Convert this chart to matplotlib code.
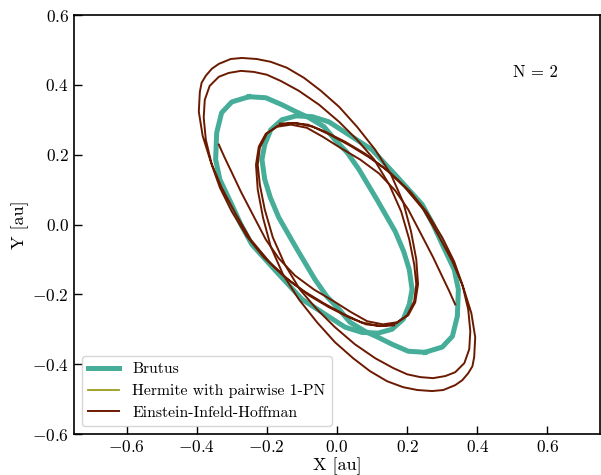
import matplotlib
matplotlib.use("Agg")
import matplotlib.pyplot as plt

plt.rcParams["font.family"] = "serif"
plt.rcParams["font.serif"] = ["cmr10"]
plt.rcParams["mathtext.fontset"] = "cm"
plt.rcParams["axes.formatter.use_mathtext"] = True
plt.rcParams["axes.unicode_minus"] = True

# Brutus (and Hermite 1-PN, hidden underneath) - body 1 and body 2 orbits
brutus_x1 = [-0.251, -0.203, -0.157, -0.117, -0.080, -0.037, -0.006, 0.029, 0.063, 0.114,
             0.166, 0.190, 0.206, 0.214, 0.206, 0.189, 0.157, 0.117, 0.071, 0.023,
             -0.034, -0.100, -0.171, -0.243, -0.274, -0.300, -0.334, -0.346, -0.343, -0.329,
             -0.300, -0.251]
brutus_y1 = [0.366, 0.363, 0.343, 0.323, 0.306, 0.280, 0.243, 0.206, 0.157, 0.071,
             -0.020, -0.077, -0.129, -0.186, -0.229, -0.271, -0.300, -0.311, -0.309, -0.294,
             -0.257, -0.214, -0.137, -0.057, 0.000, 0.057, 0.129, 0.186, 0.263, 0.320,
             0.351, 0.366]
brutus_x2 = [0.251, 0.203, 0.157, 0.117, 0.080, 0.037, 0.006, -0.029, -0.063, -0.114,
             -0.166, -0.190, -0.206, -0.214, -0.206, -0.189, -0.157, -0.117, -0.071, -0.023,
             0.034, 0.100, 0.171, 0.243, 0.274, 0.300, 0.334, 0.346, 0.343, 0.329,
             0.300, 0.251]
brutus_y2 = [-0.366, -0.363, -0.343, -0.323, -0.306, -0.280, -0.243, -0.206, -0.157, -0.071,
             0.020, 0.077, 0.129, 0.186, 0.229, 0.271, 0.300, 0.311, 0.309, 0.294,
             0.257, 0.214, 0.137, 0.057, 0.000, -0.057, -0.129, -0.186, -0.263, -0.320,
             -0.351, -0.366]

# Einstein-Infeld-Hoffman (precessing) - body 1 and body 2
eih_x1 = [0.163, 0.120, 0.069, 0.020, -0.037, -0.094, -0.151, -0.209, -0.257, -0.300,
          -0.334, -0.357, -0.374, -0.380, -0.377, -0.363, -0.337, -0.309, -0.274,
          -0.237, -0.200, -0.160, -0.109, -0.051, 0.006, 0.057, 0.106, 0.149, 0.183,
          0.206, 0.220, 0.226, 0.220, 0.200, 0.169, 0.129, 0.083, 0.034,
          -0.023, -0.080, -0.137, -0.194, -0.246, -0.289, -0.329, -0.360, -0.383, -0.394,
          -0.391, -0.386, -0.374, -0.357, -0.337, -0.303, -0.271,
          -0.229, -0.189, -0.143, -0.094, -0.046, 0.006, 0.057, 0.109, 0.154, 0.189,
          0.211, 0.226, 0.231, 0.223, 0.203, 0.171, 0.131, 0.086, 0.040,
          -0.009, -0.066, -0.120, -0.166, -0.203, -0.243, -0.274, -0.300, -0.320, -0.337]
eih_y1 = [-0.289, -0.291, -0.280, -0.257, -0.226, -0.191, -0.149, -0.094, -0.034, 0.037,
          0.106, 0.171, 0.243, 0.306, 0.357, 0.397, 0.423, 0.434, 0.440,
          0.437, 0.429, 0.411, 0.383, 0.343, 0.294, 0.243, 0.186, 0.114, 0.037,
          -0.043, -0.114, -0.171, -0.220, -0.260, -0.283, -0.291, -0.286, -0.266,
          -0.237, -0.203, -0.160, -0.106, -0.043, 0.031, 0.106, 0.180, 0.254, 0.323,
          0.380, 0.406, 0.426, 0.446, 0.460, 0.474, 0.477,
          0.474, 0.466, 0.449, 0.420, 0.383, 0.337, 0.280, 0.214, 0.143, 0.063,
          -0.020, -0.100, -0.171, -0.223, -0.260, -0.280, -0.286, -0.277, -0.251,
          -0.220, -0.186, -0.146, -0.097, -0.043, 0.034, 0.094, 0.149, 0.191, 0.229]
eih_x2 = [-0.163, -0.120, -0.069, -0.020, 0.037, 0.094, 0.151, 0.209, 0.257, 0.300,
          0.334, 0.357, 0.374, 0.380, 0.377, 0.363, 0.337, 0.309, 0.274,
          0.237, 0.200, 0.160, 0.109, 0.051, -0.006, -0.057, -0.106, -0.149, -0.183,
          -0.206, -0.220, -0.226, -0.220, -0.200, -0.169, -0.129, -0.083, -0.034,
          0.023, 0.080, 0.137, 0.194, 0.246, 0.289, 0.329, 0.360, 0.383, 0.394,
          0.391, 0.386, 0.374, 0.357, 0.337, 0.303, 0.271,
          0.229, 0.189, 0.143, 0.094, 0.046, -0.006, -0.057, -0.109, -0.154, -0.189,
          -0.211, -0.226, -0.231, -0.223, -0.203, -0.171, -0.131, -0.086, -0.040,
          0.009, 0.066, 0.120, 0.166, 0.203, 0.243, 0.274, 0.300, 0.320, 0.337]
eih_y2 = [0.289, 0.291, 0.280, 0.257, 0.226, 0.191, 0.149, 0.094, 0.034, -0.037,
          -0.106, -0.171, -0.243, -0.306, -0.357, -0.397, -0.423, -0.434, -0.440,
          -0.437, -0.429, -0.411, -0.383, -0.343, -0.294, -0.243, -0.186, -0.114, -0.037,
          0.043, 0.114, 0.171, 0.220, 0.260, 0.283, 0.291, 0.286, 0.266,
          0.237, 0.203, 0.160, 0.106, 0.043, -0.031, -0.106, -0.180, -0.254, -0.323,
          -0.380, -0.406, -0.426, -0.446, -0.460, -0.474, -0.477,
          -0.474, -0.466, -0.449, -0.420, -0.383, -0.337, -0.280, -0.214, -0.143, -0.063,
          0.020, 0.100, 0.171, 0.223, 0.260, 0.280, 0.286, 0.277, 0.251,
          0.220, 0.186, 0.146, 0.097, 0.043, -0.034, -0.094, -0.149, -0.191, -0.229]

c_brutus = "#45ad98"
c_hermite = "#9c9a1f"
c_eih = "#6b1a00"

fig = plt.figure(figsize=(6.01, 4.75), dpi=100)
ax = fig.add_axes([0.123, 0.0863, 0.8755, 0.8821])

ax.plot(brutus_x1, brutus_y1, color=c_brutus, lw=3.6, label="Brutus", zorder=2)
ax.plot(brutus_x2, brutus_y2, color=c_brutus, lw=3.6, zorder=2)
ax.plot(brutus_x1, brutus_y1, color=c_hermite, lw=1.3, label="Hermite with pairwise 1-PN", zorder=1)
ax.plot(brutus_x2, brutus_y2, color=c_hermite, lw=1.3, zorder=1)
ax.plot(eih_x1, eih_y1, color=c_eih, lw=1.4, label="Einstein-Infeld-Hoffman", zorder=3)
ax.plot(eih_x2, eih_y2, color=c_eih, lw=1.4, zorder=3)

ax.text(0.566, 0.437, "N = 2", fontsize=12, ha="center", va="center")

ax.set_xlim(-0.75, 0.75)
ax.set_ylim(-0.6, 0.6)
ax.set_xticks([-0.6, -0.4, -0.2, 0.0, 0.2, 0.4, 0.6])
ax.set_yticks([-0.6, -0.4, -0.2, 0.0, 0.2, 0.4, 0.6])
ax.tick_params(direction="in", length=6, width=1, labelsize=12.5)
ax.set_xlabel("X [au]", fontsize=13, labelpad=2)
ax.set_ylabel("Y [au]", fontsize=13, labelpad=2)
for s in ax.spines.values():
    s.set_linewidth(1.2)

ax.legend(loc="lower left", fontsize=11.3, frameon=True, handlelength=2.0)

fig.savefig("out.png", dpi=100)
